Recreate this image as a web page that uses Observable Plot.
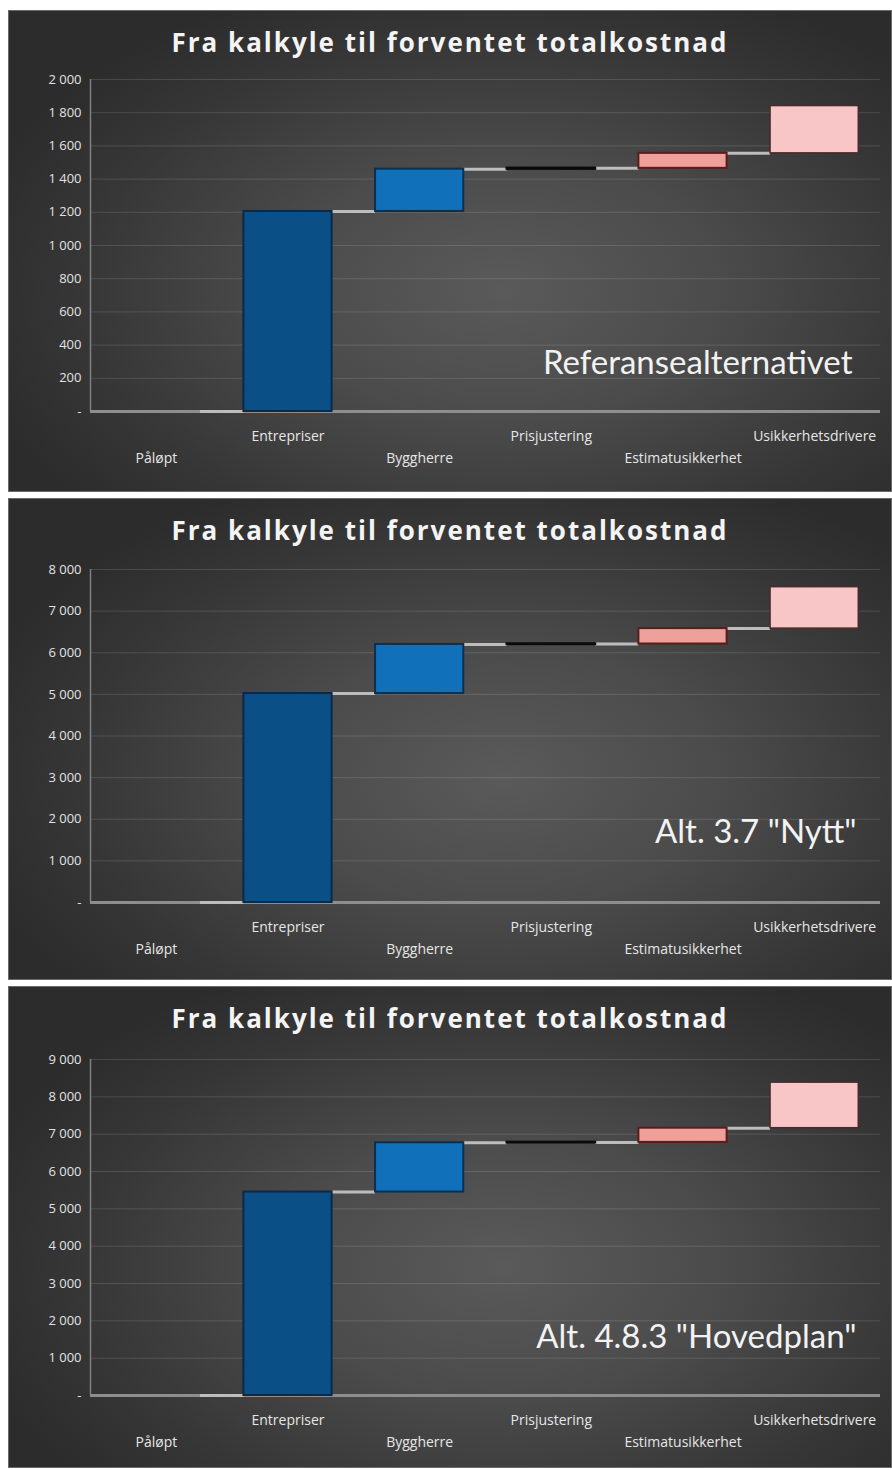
<!DOCTYPE html>
<html>
<head>
<meta charset="utf-8">
<script src="https://cdn.jsdelivr.net/npm/d3@7"></script>
<script src="https://cdn.jsdelivr.net/npm/@observablehq/plot@0.6"></script>
<style>
  html, body { margin: 0; padding: 0; background: #ffffff; }
  #wrap { padding-top: 10px; padding-left: 8px; width: 884px; }
  .panel {
    position: relative; width: 884px; height: 482px; margin-bottom: 6px;
    background: radial-gradient(ellipse 62% 68% at 56% 58%, #5a5a5a 0%, #4b4b4b 40%, #363636 78%, #2c2c2c 100%);
    box-shadow: inset 0 0 0 1px #6a6a6a;
    overflow: hidden;
  }
  .title {
    height: 30px; padding-top: 19px; line-height: 26px; text-align: center;
    font-family: "Open Sans", sans-serif; font-weight: 700; font-size: 26px;
    letter-spacing: 2px; color: #f4f4f4;
  }
  svg { display: block; }
</style>
</head>
<body>
<div id="wrap"></div>
<script>
// ---- data ----
const categories = ["Påløpt", "Entrepriser", "Byggherre", "Prisjustering", "Estimatusikkerhet", "Usikkerhetsdrivere"];
const titleText = "Fra kalkyle til forventet totalkostnad";
const panelLabels = ["Referansealternativet", "Alt. 3.7 \"Nytt\"", "Alt. 4.8.3 \"Hovedplan\""];
// increments per category (waterfall steps)
const valuesReferanse = [0, 1205, 255, 5, 90, 285];
const valuesAlt37 = [0, 5020, 1180, 10, 370, 995];
const valuesAlt483 = [0, 5450, 1320, 10, 380, 1220];
const yMaxes = [2000, 8000, 9000];
const yTickSteps = [200, 1000, 1000];

// ---- style / layout ----
const series = [valuesReferanse, valuesAlt37, valuesAlt483];
const layout = [
  {mt: 20, mb: 80, dx: -28, dy: -38},
  {mt: 22, mb: 77, dx: -24, dy: -60},
  {mt: 24, mb: 72, dx: -24, dy: -48}
];
const fills = ["#8a8a8a", "#0a5087", "#1070ba", "#111111", "#f0a09b", "#f8c6c6"];
const strokes = ["none", "#0b2a48", "#0a2f4f", "#0a0a0a", "#5b1c1c", "#4a2b2b"];
const strokeWidths = [0, 2, 2, 2.5, 2, 1.5];
const barW = 0.67;
const fmt = d => d === 0 ? "-" : d3.format(",")(d).replace(/,/g, " ");

const wrap = document.getElementById("wrap");

series.forEach((vals, p) => {
  const cum = [];
  let s = 0;
  const bars = vals.map((v, i) => {
    const start = s; s += v; cum.push(s);
    return {i, cat: categories[i], y1: start, y2: s,
      x1: i - barW / 2, x2: i + barW / 2,
      fill: fills[i], stroke: strokes[i], sw: strokeWidths[i]};
  });
  const connectors = d3.range(categories.length - 1).map(i => ({
    x1: i + barW / 2, x2: i + 1 - barW / 2, y: cum[i]
  }));
  const ticks = d3.range(0, yMaxes[p] + 1, yTickSteps[p]);
  const L = layout[p];

  const panel = document.createElement("div");
  panel.className = "panel";
  const title = document.createElement("div");
  title.className = "title";
  title.textContent = titleText;
  panel.appendChild(title);

  const chart = Plot.plot({
    width: 884, height: 432,
    marginLeft: 82, marginRight: 12, marginTop: L.mt, marginBottom: L.mb,
    style: {background: "transparent", color: "#e6e6e6", fontFamily: "'Open Sans', sans-serif", overflow: "visible"},
    x: {domain: [-0.5, categories.length - 0.5], axis: null},
    y: {domain: [0, yMaxes[p]], axis: null},
    color: {type: "identity"},
    marks: [
      Plot.gridY(ticks, {stroke: "#ffffff", strokeOpacity: 0.13}),
      Plot.axisY({ticks, tickSize: 0, tickPadding: 9, tickFormat: fmt, fontSize: 13, fill: "#e2e2e2", letterSpacing: 1.1}),
      Plot.ruleX([-0.5], {stroke: "#808080", strokeWidth: 1.5}),
      Plot.ruleY([0], {stroke: "#8e8e8e", strokeWidth: 3}),
      Plot.ruleY(connectors, {x1: "x1", x2: "x2", y: "y", stroke: "#bdbdbd", strokeWidth: 3}),
      Plot.rect(bars, {x1: "x1", x2: "x2", y1: "y1", y2: "y2", fill: "fill", stroke: "stroke", strokeWidth: d => d.sw}),
      Plot.axisX({ticks: [1, 3, 5], tickSize: 0, tickPadding: 20, tickFormat: i => categories[i], fontSize: 14, fill: "#e6e6e6", letterSpacing: 0.4}),
      Plot.axisX({ticks: [0, 2, 4], tickSize: 0, tickPadding: 42, tickFormat: i => categories[i], fontSize: 14, fill: "#e6e6e6", letterSpacing: 0.4}),
      Plot.text([panelLabels[p]], {text: d => d, frameAnchor: "bottom-right", textAnchor: "end", lineAnchor: "bottom",
        dx: L.dx, dy: L.dy, fontSize: 33, fontFamily: "Lato, sans-serif", fill: "#f2f2f2"})
    ]
  });
  panel.appendChild(chart);
  wrap.appendChild(panel);
});
</script>
</body>
</html>
